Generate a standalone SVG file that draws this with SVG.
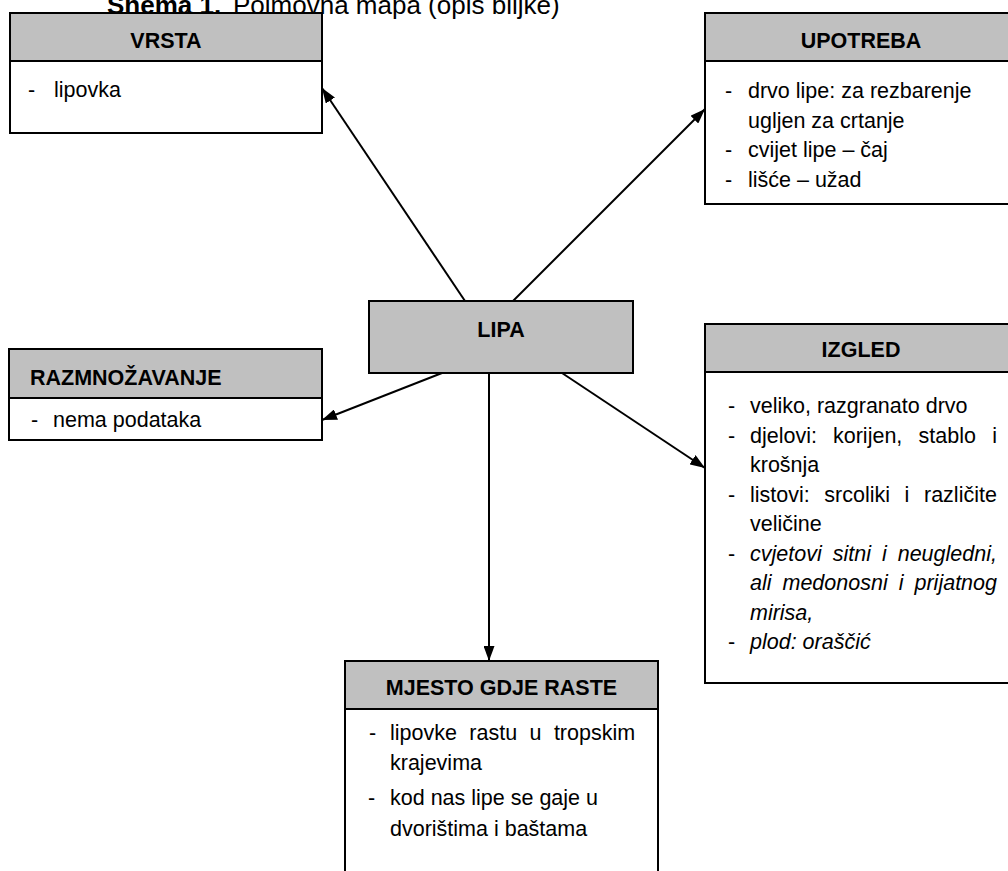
<svg xmlns="http://www.w3.org/2000/svg" width="1008" height="871" viewBox="0 0 1008 871">
<style>
text{font-family:"Liberation Sans",Arial,sans-serif;fill:#000}
.hd{fill:#c0c0c0;stroke:#000;stroke-width:2}
.bd{fill:#fff;stroke:#000;stroke-width:2}
.ht{font-size:21.5px;font-weight:bold}
.tx{font-size:21.5px}
.it{font-style:italic}
.con line{stroke:#000;stroke-width:2;marker-end:url(#ah)}
</style>
<defs>
<marker id="ah" viewBox="0 0 15 11" refX="15" refY="5.5" markerWidth="15" markerHeight="11" markerUnits="userSpaceOnUse" orient="auto">
<path d="M0,0 L15,5.5 L0,11 Z" fill="#000"/>
</marker>
</defs>
<rect width="1008" height="871" fill="#fff"/>
<text x="107" y="14" style="font-size:26px"><tspan font-weight="bold">Shema 1.</tspan><tspan x="233">Pojmovna mapa (opis biljke)</tspan></text>

<g class="con">
<line x1="465" y1="301" x2="322" y2="88"/>
<line x1="513" y1="301" x2="705" y2="109"/>
<line x1="442" y1="373" x2="322" y2="420"/>
<line x1="562" y1="373" x2="705" y2="468"/>
<line x1="489" y1="373" x2="489" y2="661"/>
</g>

<g id="vrsta">
<rect class="bd" x="10" y="61" width="312" height="72"/>
<rect class="hd" x="10" y="13" width="312" height="48"/>
<text class="ht" x="166" y="48" text-anchor="middle">VRSTA</text>
<text class="tx" x="28" y="97">-</text>
<text class="tx" x="54" y="97">lipovka</text>
</g>

<g id="upotreba">
<rect class="bd" x="705" y="61" width="320" height="143"/>
<rect class="hd" x="705" y="13" width="320" height="48"/>
<text class="ht" x="861" y="48" text-anchor="middle">UPOTREBA</text>
<text class="tx" x="725" y="98">-</text>
<text class="tx" x="748" y="98">drvo lipe: za rezbarenje</text>
<text class="tx" x="748" y="127.5">ugljen za crtanje</text>
<text class="tx" x="725" y="157">-</text>
<text class="tx" x="748" y="157">cvijet lipe – čaj</text>
<text class="tx" x="725" y="186.5">-</text>
<text class="tx" x="748" y="186.5">lišće – užad</text>
</g>

<g id="razmnozavanje">
<rect class="bd" x="9" y="398" width="313" height="42"/>
<rect class="hd" x="9" y="349" width="313" height="49"/>
<text class="ht" x="30" y="385">RAZMNOŽAVANJE</text>
<text class="tx" x="31" y="427">-</text>
<text class="tx" x="53" y="427">nema podataka</text>
</g>

<g id="lipa">
<rect class="hd" x="369" y="301" width="264" height="72"/>
<text class="ht" x="501" y="337" text-anchor="middle">LIPA</text>
</g>

<g id="izgled">
<rect class="bd" x="705" y="372" width="320" height="311"/>
<rect class="hd" x="705" y="324" width="320" height="48"/>
<text class="ht" x="861" y="357" text-anchor="middle">IZGLED</text>
<text class="tx" x="728" y="413">-</text>
<text class="tx" x="750" y="413">veliko, razgranato drvo</text>
<text class="tx" x="728" y="442.5">-</text>
<text class="tx" y="442.5"><tspan x="750">djelovi:</tspan><tspan x="833">korijen,</tspan><tspan x="918.6">stablo</tspan><tspan x="992.2">i</tspan></text>
<text class="tx" x="750" y="472">krošnja</text>
<text class="tx" x="728" y="501.5">-</text>
<text class="tx" y="501.5"><tspan x="750">listovi:</tspan><tspan x="824.3">srcoliki</tspan><tspan x="904.6">i</tspan><tspan x="924">različite</tspan></text>
<text class="tx" x="750" y="531">veličine</text>
<text class="tx" x="728" y="560.5">-</text>
<text class="tx it" y="560.5"><tspan x="750">cvjetovi</tspan><tspan x="832.7">sitni</tspan><tspan x="881.9">i</tspan><tspan x="897.7">neugledni,</tspan></text>
<text class="tx it" y="590"><tspan x="750">ali</tspan><tspan x="782.5">medonosni</tspan><tspan x="898.7">i</tspan><tspan x="914.5">prijatnog</tspan></text>
<text class="tx it" x="750" y="619.5">mirisa,</text>
<text class="tx" x="728" y="649">-</text>
<text class="tx it" x="750" y="649">plod: oraščić</text>
</g>

<g id="mjesto">
<rect class="bd" x="345" y="709" width="313" height="200"/>
<rect class="hd" x="345" y="661" width="313" height="48"/>
<text class="ht" x="501.5" y="695" text-anchor="middle">MJESTO GDJE RASTE</text>
<text class="tx" x="369" y="740">-</text>
<text class="tx" y="740"><tspan x="390">lipovke</tspan><tspan x="469.3">rastu</tspan><tspan x="529.5">u</tspan><tspan x="553.9">tropskim</tspan></text>
<text class="tx" x="390" y="770">krajevima</text>
<text class="tx" x="368" y="805">-</text>
<text class="tx" x="390" y="805">kod nas lipe se gaje u</text>
<text class="tx" x="390" y="836">dvorištima i baštama</text>
</g>
</svg>
